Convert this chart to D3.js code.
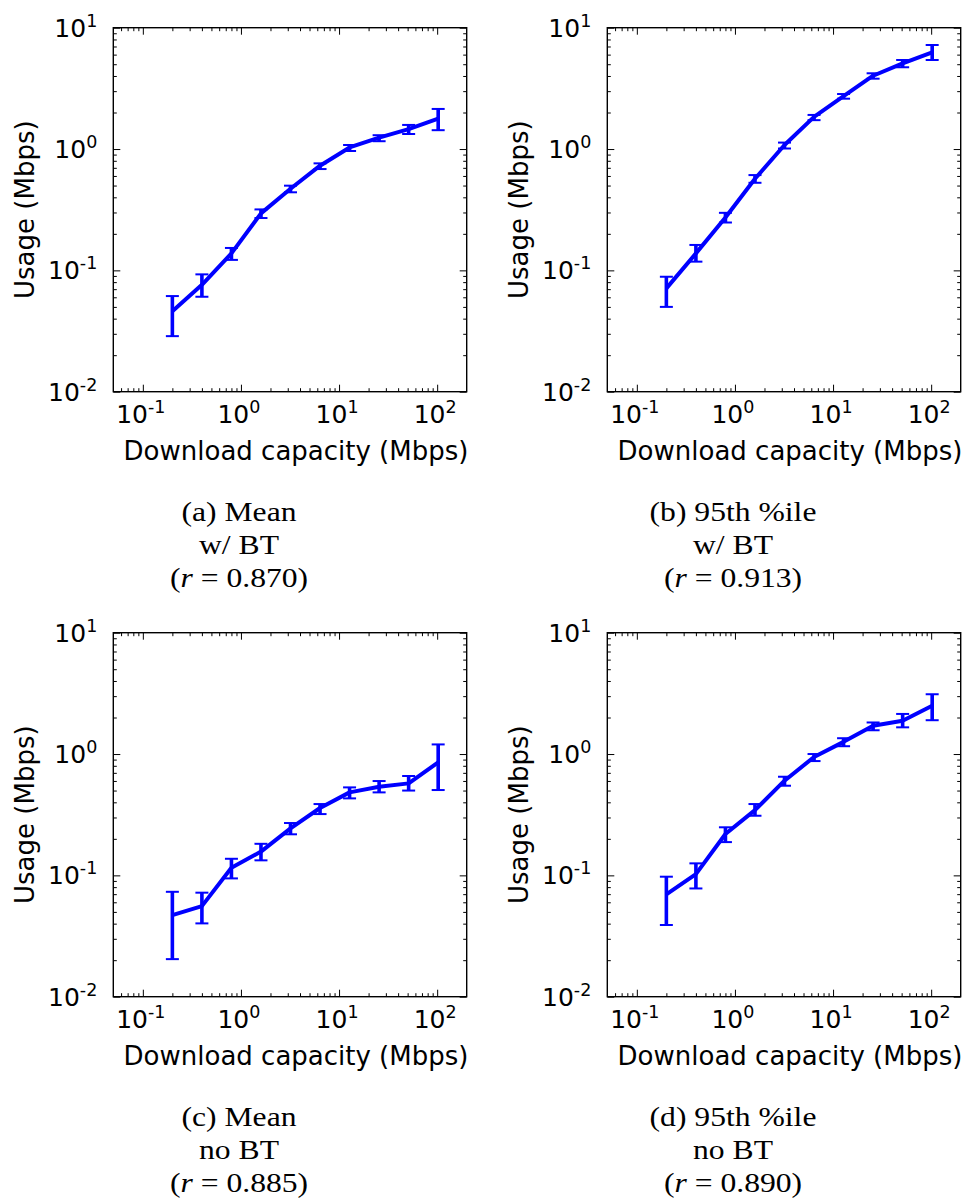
<!DOCTYPE html>
<html>
<head>
<meta charset="utf-8">
<script src="https://cdn.jsdelivr.net/npm/d3@7"></script>
<style>
  html, body { margin: 0; padding: 0; background: #fff; }
  svg { display: block; }
</style>
</head>
<body>
<svg id="fig" width="964" height="1201"></svg>
<script>
// Download capacity bins (Mbps), shared by all four panels
const capacity = [0.2, 0.4, 0.8, 1.6, 3.2, 6.4, 12.8, 25.6, 51.2, 102.4];

// (a) mean usage, with BitTorrent
const meanBT     = [0.046, 0.076, 0.138, 0.295, 0.471, 0.729, 1.03, 1.24, 1.46, 1.78];
const meanBTLow  = [0.0287, 0.0606, 0.122, 0.270, 0.440, 0.684, 0.963, 1.16, 1.33, 1.43];
const meanBTHigh = [0.0614, 0.0927, 0.153, 0.318, 0.499, 0.762, 1.08, 1.30, 1.58, 2.14];

// (b) 95th percentile usage, with BitTorrent
const p95BT     = [0.071, 0.138, 0.273, 0.569, 1.08, 1.84, 2.73, 4.02, 5.08, 6.27];
const p95BTLow  = [0.050, 0.118, 0.248, 0.527, 1.01, 1.73, 2.60, 3.80, 4.72, 5.42];
const p95BTHigh = [0.0886, 0.162, 0.298, 0.610, 1.13, 1.91, 2.84, 4.21, 5.42, 7.20];

// (c) mean usage, without BitTorrent
const meanNoBT     = [0.047, 0.0558, 0.1156, 0.157, 0.244, 0.359, 0.483, 0.538, 0.573, 0.854];
const meanNoBTLow  = [0.0204, 0.0402, 0.0944, 0.133, 0.218, 0.320, 0.431, 0.483, 0.500, 0.505];
const meanNoBTHigh = [0.0732, 0.0720, 0.137, 0.182, 0.270, 0.387, 0.531, 0.599, 0.659, 1.20];

// (d) 95th percentile usage, without BitTorrent
const p95NoBT     = [0.0697, 0.1025, 0.219, 0.345, 0.603, 0.945, 1.26, 1.71, 1.88, 2.50];
const p95NoBTLow  = [0.039, 0.078, 0.188, 0.310, 0.548, 0.875, 1.16, 1.57, 1.66, 1.90];
const p95NoBTHigh = [0.0975, 0.1256, 0.249, 0.387, 0.650, 1.00, 1.35, 1.82, 2.14, 3.11];

// Tick exponents and captions
const xExponents = [-1, 0, 1, 2];
const yExponents = [-2, -1, 0, 1];
const captionTitles = ["(a) Mean", "(b) 95th %ile", "(c) Mean", "(d) 95th %ile"];
const captionGroups = ["w/ BT", "w/ BT", "no BT", "no BT"];
const captionR = ["0.870", "0.913", "0.885", "0.890"];

const series = [
  [meanBT, meanBTLow, meanBTHigh],
  [p95BT, p95BTLow, p95BTHigh],
  [meanNoBT, meanNoBTLow, meanNoBTHigh],
  [p95NoBT, p95NoBTLow, p95NoBTHigh]
];

// Layout
const plotW = 353.4, plotH = 364;
const origins = [[113.3, 27.7], [607.3, 27.7], [113.3, 632.7], [607.3, 632.7]];
const BLUE = "#0000ff";
const SANS = "'DejaVu Sans', sans-serif";
const SERIF = "'Liberation Serif', 'Times New Roman', serif";

const svg = d3.select("#fig");

const x = d3.scaleLog().domain([0.05, 200]).range([0, plotW]);
const y = d3.scaleLog().domain([0.01, 10]).range([plotH, 0]);

function minorTicks(lo, hi) {
  const out = [];
  for (let e = lo; e <= hi; e++) {
    for (let m = 2; m <= 9; m++) out.push(m * Math.pow(10, e));
  }
  return out;
}
const xMinor = minorTicks(-2, 2).filter(v => v > 0.05 && v < 200);
const yMinor = minorTicks(-2, 0).filter(v => v > 0.01 && v < 10);
const xMajor = xExponents.map(e => Math.pow(10, e));
const yMajor = yExponents.map(e => Math.pow(10, e));

function powerLabel(sel, exp, baseSize, supSize, rise) {
  sel.append("tspan").text("10").attr("font-size", baseSize);
  sel.append("tspan").text(String(exp)).attr("font-size", supSize).attr("dy", -rise);
}

function styleAxis(g) {
  g.select(".domain").remove();
  g.selectAll(".tick line").attr("stroke", "#000").attr("stroke-width", 1);
  g.selectAll(".tick text").remove();
}

series.forEach((s, i) => {
  const [ox, oy] = origins[i];
  const g = svg.append("g").attr("transform", `translate(${ox},${oy})`);

  // Ticks on all four sides, pointing into the plot
  const axes = [
    [d3.axisBottom, x, `translate(0,${plotH})`, xMajor, xMinor],
    [d3.axisTop, x, `translate(0,0)`, xMajor, xMinor],
    [d3.axisLeft, y, `translate(0,0)`, yMajor, yMinor],
    [d3.axisRight, y, `translate(${plotW},0)`, yMajor, yMinor]
  ];
  axes.forEach(([make, sc, tr, major, minor]) => {
    g.append("g").attr("transform", tr)
      .call(make(sc).tickValues(major).tickSizeInner(-7).tickSizeOuter(0).tickFormat(""))
      .call(styleAxis);
    g.append("g").attr("transform", tr)
      .call(make(sc).tickValues(minor).tickSizeInner(-3.5).tickSizeOuter(0).tickFormat(""))
      .call(styleAxis);
  });

  // Frame
  g.append("rect").attr("x", 0).attr("y", 0).attr("width", plotW).attr("height", plotH)
    .attr("fill", "none").attr("stroke", "#000").attr("stroke-width", 1.4);

  // X tick labels
  xExponents.forEach(e => {
    const t = g.append("text")
      .attr("x", x(Math.pow(10, e)) - 2)
      .attr("y", plotH + 31.6)
      .attr("text-anchor", "middle")
      .attr("font-family", SANS)
      .attr("fill", "#000");
    powerLabel(t, e, 25, 17.5, 10);
  });

  // Y tick labels
  yExponents.forEach(e => {
    const t = g.append("text")
      .attr("x", -16)
      .attr("y", y(Math.pow(10, e)) + 9)
      .attr("text-anchor", "end")
      .attr("font-family", SANS)
      .attr("fill", "#000");
    powerLabel(t, e, 25, 17.5, 10);
  });

  // Axis titles
  g.append("text")
    .attr("x", plotW / 2 + 6)
    .attr("y", plotH + 68)
    .attr("text-anchor", "middle")
    .attr("font-family", SANS)
    .attr("font-size", 26)
    .text("Download capacity (Mbps)");

  g.append("text")
    .attr("transform", `translate(${33.5 - 113.3},${plotH / 2}) rotate(-90)`)
    .attr("text-anchor", "middle")
    .attr("font-family", SANS)
    .attr("font-size", 26)
    .text("Usage (Mbps)");

  // Data line
  const [mid, lo, hi] = s;
  const pts = capacity.map((c, k) => ({ c, m: mid[k], lo: lo[k], hi: hi[k] }));
  g.append("path")
    .datum(pts)
    .attr("fill", "none")
    .attr("stroke", BLUE)
    .attr("stroke-width", 4)
    .attr("stroke-linejoin", "round")
    .attr("d", d3.line().x(d => x(d.c)).y(d => y(d.m)));

  // Error bars with caps
  const eb = g.append("g").selectAll("g").data(pts).join("g");
  eb.append("line")
    .attr("x1", d => x(d.c)).attr("x2", d => x(d.c))
    .attr("y1", d => y(d.lo)).attr("y2", d => y(d.hi))
    .attr("stroke", BLUE).attr("stroke-width", 3.6);
  ["lo", "hi"].forEach(k => {
    eb.append("line")
      .attr("x1", d => x(d.c) - 6.5).attr("x2", d => x(d.c) + 6.5)
      .attr("y1", d => y(d[k])).attr("y2", d => y(d[k]))
      .attr("stroke", BLUE).attr("stroke-width", 2);
  });

  // Caption below the panel
  const cx = ox + 125.7;
  const capBase = oy + 493.5;
  const lines = [captionTitles[i], captionGroups[i], null];
  lines.forEach((txt, li) => {
    const t = svg.append("text")
      .attr("transform", `translate(${cx},${capBase + li * 33}) scale(1.13,1)`)
      .attr("text-anchor", "middle")
      .attr("font-family", SERIF)
      .attr("font-size", 28)
      .attr("fill", "#000");
    if (txt !== null) {
      t.text(txt);
    } else {
      t.append("tspan").text("(");
      t.append("tspan").attr("font-style", "italic").text("r");
      t.append("tspan").text(" = " + captionR[i] + ")");
    }
  });
});
</script>
</body>
</html>
